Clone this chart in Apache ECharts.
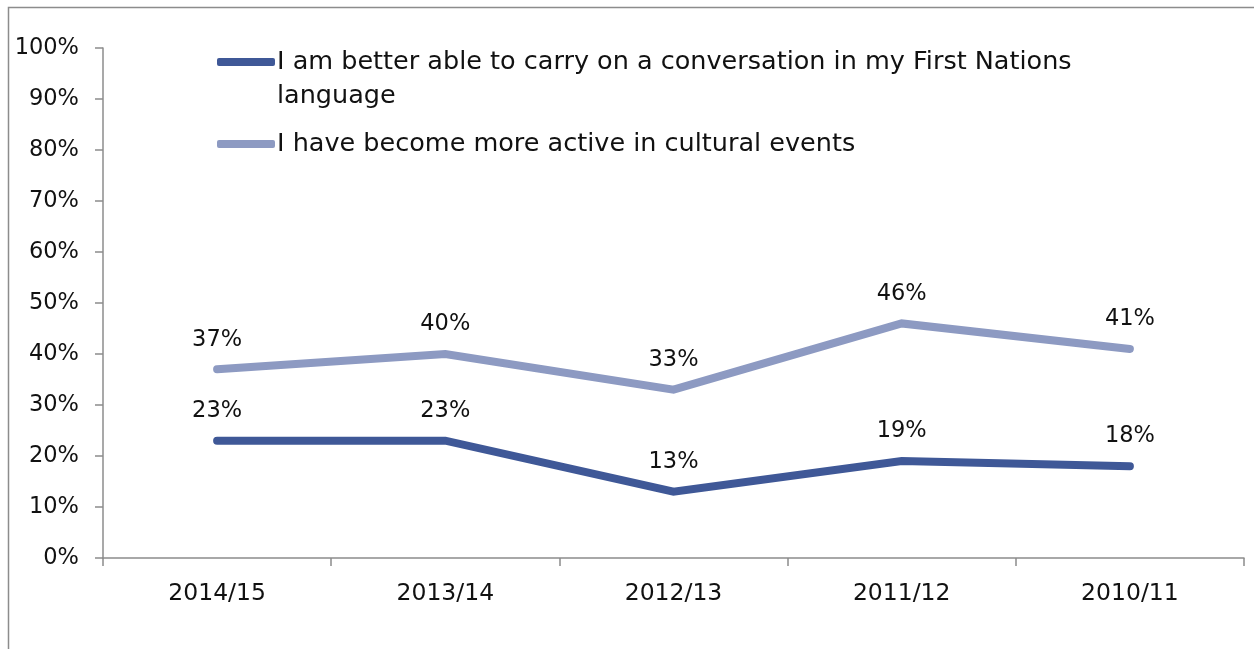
<!DOCTYPE html>
<html><head><meta charset="utf-8">
<script src="https://cdn.jsdelivr.net/npm/echarts@6/dist/echarts.min.js"></script>
<style>html,body{margin:0;padding:0;background:#fff}#c{width:1254px;height:649px}</style>
</head><body><div id="c"></div>
<script>
const categories = ['2014/15', '2013/14', '2012/13', '2011/12', '2010/11'];
const seriesNames = ['I am better able to carry on a conversation in my First Nations\nlanguage', 'I have become more active in cultural events'];
const conversation = [23, 23, 13, 19, 18];
const cultural = [37, 40, 33, 46, 41];
const yTicks = [0, 10, 20, 30, 40, 50, 60, 70, 80, 90, 100];

const FONT = 'DejaVu Sans';
const chart = echarts.init(document.getElementById('c'));
const mkSeries = (name, data, color) => ({
  name, type: 'line', data, symbol: 'circle', symbolSize: 0.1, showSymbol: true, smooth: false,
  lineStyle: { width: 8, color, cap: 'round', join: 'miter' },
  itemStyle: { color },
  label: { show: true, position: 'top', distance: 18, formatter: p => p.value + '%', color: '#111', fontFamily: FONT, fontSize: 22.5 },
  labelLayout: { hideOverlap: false }
});
chart.setOption({
  animation: false,
  graphic: [{ type: 'rect', shape: { x: 8.5, y: 7.5, width: 1300, height: 700 }, style: { fill: 'none', stroke: '#8c8c8c', lineWidth: 1.5 }, z: 0 }],
  grid: { left: 103, right: 10, top: 48, bottom: 91 },
  legend: {
    orient: 'vertical', left: 212, top: 6, itemWidth: 58, itemHeight: 8, itemGap: 14,
    icon: 'roundRect',
    textStyle: { fontFamily: FONT, fontSize: 25.5, color: '#111', lineHeight: 34, padding: [0, 0, 0, -3] },
    formatter: n => n.indexOf('\n') >= 0 ? '\n' + n : n,
    data: seriesNames
  },
  xAxis: {
    type: 'category', data: categories, boundaryGap: true,
    axisLine: { lineStyle: { color: '#8c8c8c', width: 1.5 } },
    axisTick: { show: true, length: 8, lineStyle: { color: '#8c8c8c', width: 1.5 } },
    axisLabel: { color: '#111', fontFamily: FONT, fontSize: 23.5, margin: 24 }
  },
  yAxis: {
    type: 'value', min: 0, max: 100, interval: 10,
    axisLine: { show: true, lineStyle: { color: '#8c8c8c', width: 1.5 } },
    axisTick: { show: true, length: 8, lineStyle: { color: '#8c8c8c', width: 1.5 } },
    splitLine: { show: false },
    axisLabel: { color: '#111', fontFamily: FONT, fontSize: 22.5, margin: 24, formatter: v => yTicks.includes(v) ? v + '%' : '' }
  },
  series: [mkSeries(seriesNames[0], conversation, '#3f5897'), mkSeries(seriesNames[1], cultural, '#8d9ac2')]
});
</script></body></html>
